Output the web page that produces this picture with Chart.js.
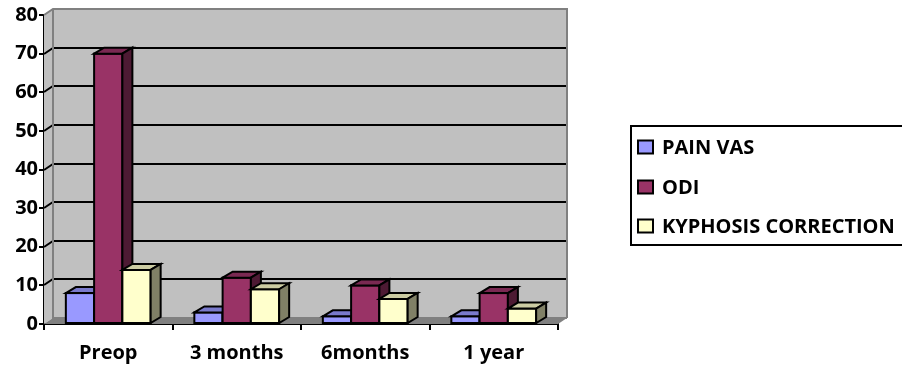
<!DOCTYPE html>
<html>
<head>
<meta charset="utf-8">
<script src="https://cdn.jsdelivr.net/npm/chart.js@4/dist/chart.umd.min.js"></script>
<style>
  html, body { margin: 0; padding: 0; background: #ffffff; }
  #c { display: block; }
</style>
</head>
<body>
<canvas id="c" width="902" height="370"></canvas>
<script>
// ---- data ----
const categories = ['Preop', '3 months', '6months', '1 year'];
const painVas = [8, 3, 2, 2];
const odi = [70, 12, 10, 8];
const kyphosisCorrection = [14, 9, 6.5, 4];
const seriesNames = ['PAIN VAS', 'ODI', 'KYPHOSIS CORRECTION'];
const yTicks = [0, 10, 20, 30, 40, 50, 60, 70, 80];

// ---- style ----
const FONT = '"Open Sans", Lato, sans-serif';
const FONT_SIZE = 20;
const frontColors = ['#9999FF', '#993366', '#FFFFCC'];
const topColors = ['#7A7ACC', '#7A2952', '#CCCCA3'];
const sideColors = ['#4D4D80', '#4D1A33', '#808066'];
const WDX = 9, WDY = 6;   // wall depth
const BDX = 10, BDY = 6;  // bar depth

const threeD = {
  id: 'threeD',
  beforeDatasetsDraw(chart) {
    const ctx = chart.ctx;
    const { left, right, top, bottom } = chart.chartArea;
    const ys = chart.scales.y;
    ctx.save();
    ctx.fillStyle = '#C0C0C0';
    ctx.beginPath();
    ctx.moveTo(left, top); ctx.lineTo(left + WDX, top - WDY);
    ctx.lineTo(left + WDX, bottom - WDY); ctx.lineTo(left, bottom);
    ctx.closePath(); ctx.fill();
    ctx.fillRect(left + WDX, top - WDY, right - left, bottom - top);
    ctx.fillStyle = '#808080';
    ctx.beginPath();
    ctx.moveTo(left, bottom); ctx.lineTo(left + WDX, bottom - WDY);
    ctx.lineTo(right + WDX, bottom - WDY); ctx.lineTo(right, bottom);
    ctx.closePath(); ctx.fill();
    ctx.strokeStyle = '#000000';
    ctx.lineWidth = 2;
    yTicks.forEach(v => {
      if (v === 0 || v === 80) return;
      const y = Math.round(ys.getPixelForValue(v));
      ctx.beginPath();
      ctx.moveTo(left, y); ctx.lineTo(left + WDX, y - WDY);
      ctx.lineTo(right + WDX, y - WDY);
      ctx.stroke();
    });
    ctx.strokeStyle = '#808080';
    ctx.lineWidth = 2;
    ctx.beginPath();
    ctx.moveTo(left, top); ctx.lineTo(left + WDX, top - WDY);
    ctx.lineTo(right + WDX, top - WDY); ctx.lineTo(right + WDX, bottom - WDY);
    ctx.moveTo(left + WDX, top - WDY); ctx.lineTo(left + WDX, bottom - WDY);
    ctx.lineTo(right + WDX, bottom - WDY);
    ctx.stroke();
    ctx.restore();
  },
  afterDatasetsDraw(chart) {
    const ctx = chart.ctx;
    ctx.save();
    ctx.lineWidth = 2;
    ctx.strokeStyle = '#000000';
    ctx.lineJoin = 'miter';
    chart.data.datasets.forEach((ds, di) => {
      const meta = chart.getDatasetMeta(di);
      meta.data.forEach(bar => {
        const l = bar.x - bar.width / 2, r = bar.x + bar.width / 2;
        const t = bar.y, b = bar.base;
        ctx.fillStyle = frontColors[di];
        ctx.fillRect(l, t, r - l, b - t);
        ctx.strokeRect(l, t, r - l, b - t);
        ctx.fillStyle = topColors[di];
        ctx.beginPath();
        ctx.moveTo(l, t); ctx.lineTo(l + BDX, t - BDY);
        ctx.lineTo(r + BDX, t - BDY); ctx.lineTo(r, t); ctx.closePath();
        ctx.fill(); ctx.stroke();
        ctx.fillStyle = sideColors[di];
        ctx.beginPath();
        ctx.moveTo(r, t); ctx.lineTo(r + BDX, t - BDY);
        ctx.lineTo(r + BDX, b - BDY); ctx.lineTo(r, b); ctx.closePath();
        ctx.fill(); ctx.stroke();
      });
    });
    ctx.restore();
  },
  afterDraw(chart) {
    const ctx = chart.ctx;
    ctx.save();
    const bx = 631, by = 126, bw = 280, bh = 119;
    ctx.strokeStyle = '#000000';
    ctx.lineWidth = 2;
    ctx.strokeRect(bx, by, bw, bh);
    const itemY = [147, 187, 226];
    ctx.font = 'bold ' + FONT_SIZE + 'px ' + FONT;
    ctx.textBaseline = 'middle';
    ctx.textAlign = 'left';
    chart.data.datasets.forEach((ds, i) => {
      const cy = itemY[i];
      ctx.fillStyle = ds.backgroundColor;
      ctx.fillRect(638, cy - 6.5, 15, 13);
      ctx.strokeRect(638, cy - 6.5, 15, 13);
      ctx.fillStyle = '#000000';
      ctx.fillText(ds.label, 662, cy + 1);
    });
    ctx.restore();
  }
};

const tickFont = { family: FONT, size: FONT_SIZE, weight: 'bold' };

new Chart(document.getElementById('c'), {
  type: 'bar',
  data: {
    labels: categories,
    datasets: [
      { label: seriesNames[0], data: painVas, backgroundColor: frontColors[0] },
      { label: seriesNames[1], data: odi, backgroundColor: frontColors[1] },
      { label: seriesNames[2], data: kyphosisCorrection, backgroundColor: frontColors[2] }
    ]
  },
  options: {
    responsive: false,
    animation: false,
    devicePixelRatio: 1,
    layout: { padding: { left: 0, top: 15, right: 344, bottom: 0 } },
    datasets: {
      bar: { categoryPercentage: 0.66, barPercentage: 1, borderWidth: 2, borderColor: '#000', borderSkipped: false }
    },
    plugins: { legend: { display: false }, tooltip: { enabled: false } },
    scales: {
      x: {
        grid: { display: true, drawOnChartArea: false, drawTicks: true, tickLength: 6, color: '#000', lineWidth: 2, offset: true },
        border: { display: true, color: '#000', width: 2 },
        ticks: { font: tickFont, color: '#000', padding: 11, maxRotation: 0 },
        afterFit: s => { s.height = 46; }
      },
      y: {
        min: 0, max: 80,
        afterBuildTicks: s => { s.ticks = yTicks.map(v => ({ value: v })); },
        grid: { display: true, drawOnChartArea: false, drawTicks: true, tickLength: 5, color: '#000', lineWidth: 2 },
        border: { display: true, color: '#000', width: 2 },
        ticks: { font: tickFont, color: '#000', padding: 1 },
        afterFit: s => { s.width = 44; }
      }
    }
  },
  plugins: [threeD]
});
</script>
</body>
</html>
